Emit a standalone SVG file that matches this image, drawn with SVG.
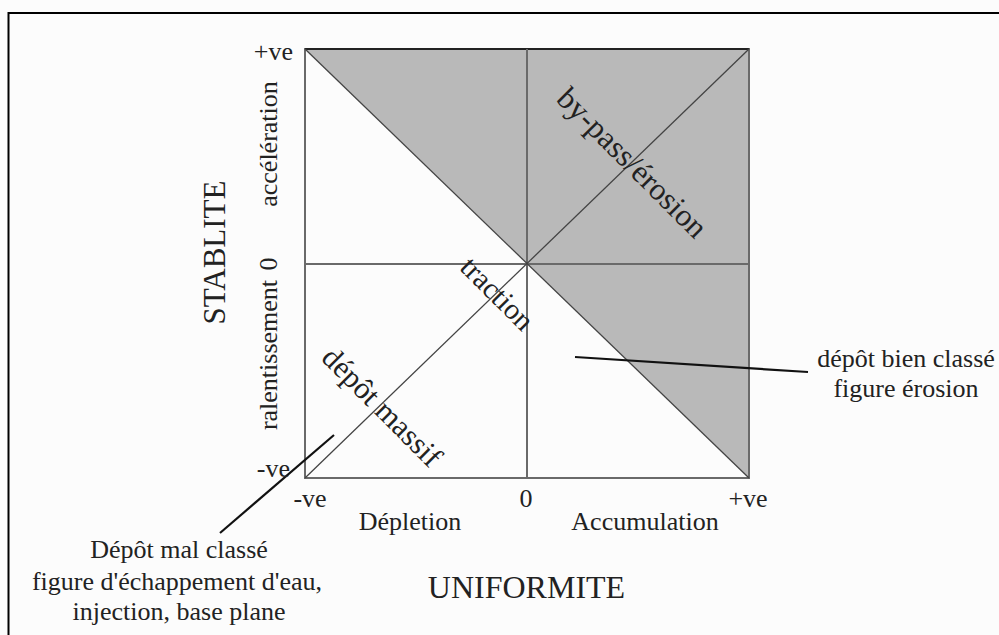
<svg xmlns="http://www.w3.org/2000/svg" width="999" height="635" viewBox="0 0 999 635">
<style>
text{font-family:"Liberation Serif","Times New Roman",serif;fill:#222}
.f26{font-size:26px}
.ax{stroke:#6a6a6a;stroke-width:2;fill:none}
.dg{stroke:#444;stroke-width:1.3;fill:none}
.ld{stroke:#111;stroke-width:2.2;fill:none}
</style>
<rect x="0" y="0" width="999" height="635" fill="#fcfcfc"/>
<rect x="8.5" y="13" width="1100" height="700" fill="none" stroke="#000" stroke-width="2"/>
<g id="plot">
<polygon points="305,49 749,49 749,478" fill="#b9b9b9"/>
<rect x="305" y="49" width="444" height="429" class="ax"/>
<line x1="305" y1="49" x2="749" y2="49" stroke="#222" stroke-width="2"/>
<line x1="527" y1="49" x2="527" y2="478" class="ax"/>
<line x1="305" y1="264" x2="749" y2="264" class="ax"/>
</g>
<g id="connectors">
<line x1="305" y1="49" x2="749" y2="478" class="dg"/>
<line x1="305" y1="478" x2="749" y2="49" class="dg"/>
<line x1="334" y1="435" x2="220" y2="533" class="ld"/>
<line x1="575" y1="357" x2="808" y2="372" class="ld"/>
</g>
<g id="axis-y">
<text class="f26" x="293" y="60" text-anchor="end">+ve</text>
<text class="f26" transform="translate(277,144) rotate(-90)" text-anchor="middle">accélération</text>
<text class="f26" transform="translate(277,264) rotate(-90)" text-anchor="middle">0</text>
<text class="f26" transform="translate(277,355) rotate(-90)" text-anchor="middle">ralentissement</text>
<text class="f26" x="290" y="477" text-anchor="end">-ve</text>
<text transform="translate(225,252.5) rotate(-90)" text-anchor="middle" style="font-size:31px">STABLITE</text>
</g>
<g id="axis-x">
<text class="f26" x="310" y="507" text-anchor="middle">-ve</text>
<text class="f26" x="526" y="507" text-anchor="middle">0</text>
<text class="f26" x="748" y="507" text-anchor="middle">+ve</text>
<text class="f26" x="410" y="530" text-anchor="middle">Dépletion</text>
<text class="f26" x="645" y="530" text-anchor="middle">Accumulation</text>
<text x="526.5" y="598" text-anchor="middle" style="font-size:32px">UNIFORMITE</text>
</g>
<g id="label-bypass">
<text transform="translate(632,163) rotate(45)" text-anchor="middle" y="10" style="font-size:31.5px">by-pass/érosion</text>
</g>
<g id="label-traction">
<text transform="translate(497.5,293.5) rotate(45)" text-anchor="middle" y="10" style="font-size:29.5px">traction</text>
</g>
<g id="label-massif">
<text transform="translate(382,407) rotate(45)" text-anchor="middle" y="10" style="font-size:30.5px">dépôt massif</text>
</g>
<g id="note-right">
<text class="f26" x="906" y="367" text-anchor="middle">dépôt bien classé</text>
<text class="f26" x="906" y="397" text-anchor="middle">figure érosion</text>
</g>
<g id="note-left">
<text class="f26" x="179" y="558" text-anchor="middle">Dépôt mal classé</text>
<text class="f26" x="177" y="590" text-anchor="middle">figure d'échappement d'eau,</text>
<text class="f26" x="179" y="620" text-anchor="middle">injection, base plane</text>
</g>
</svg>
